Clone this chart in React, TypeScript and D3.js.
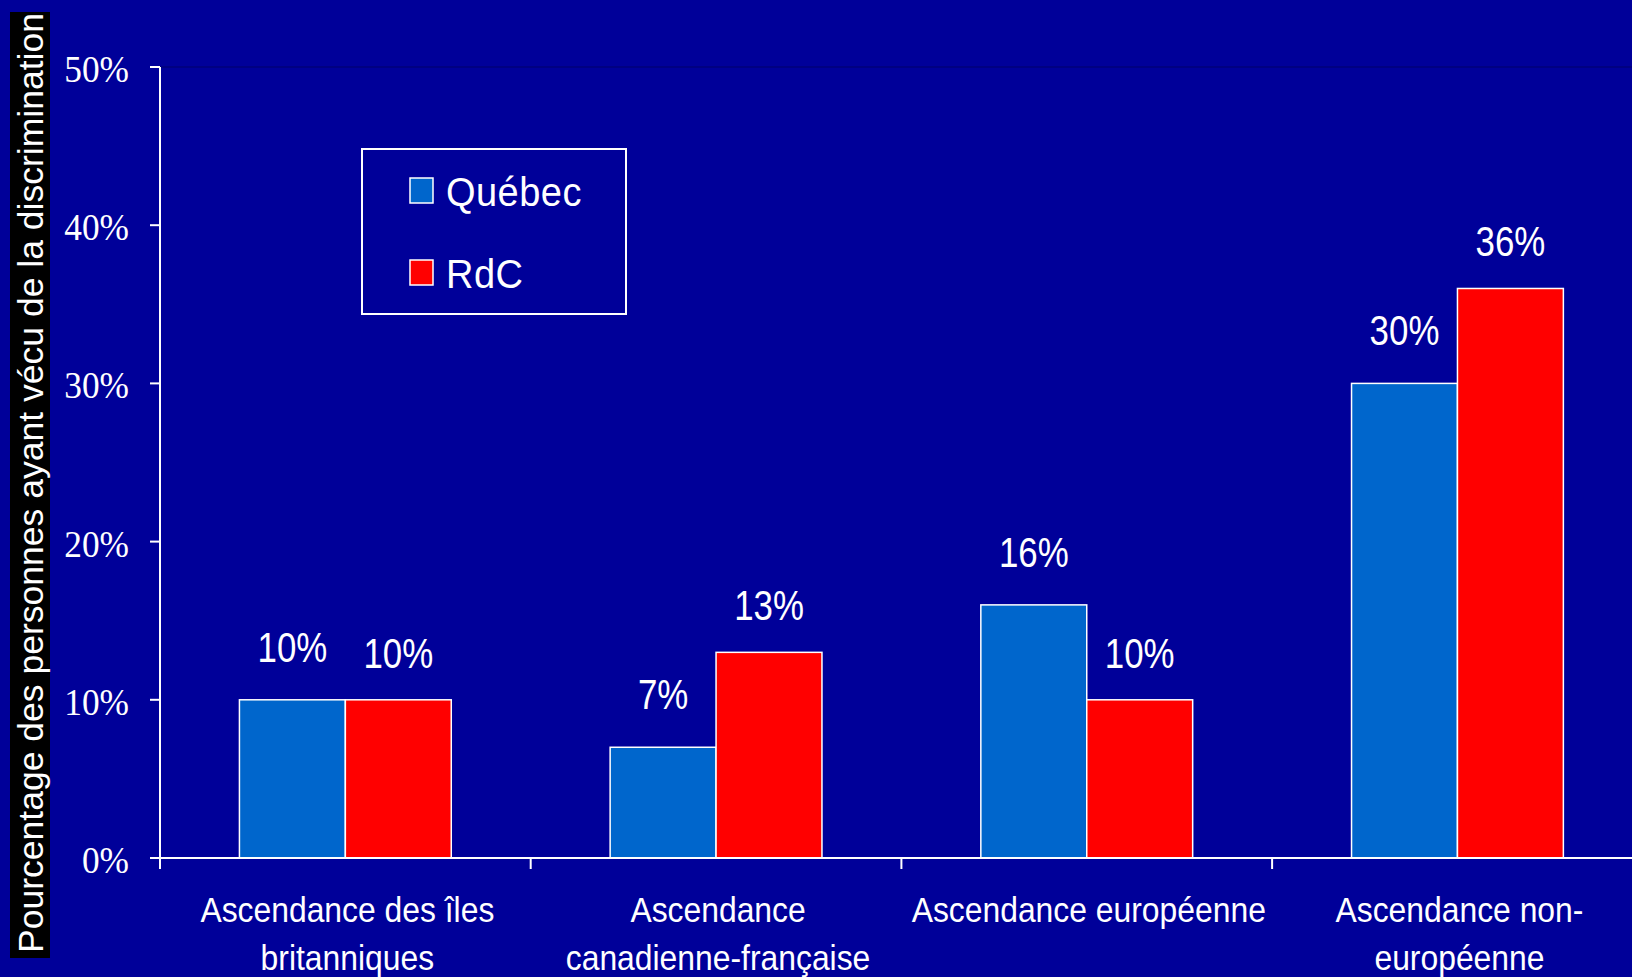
import React from 'react';
import * as d3 from 'd3';

const categories: string[][] = [
  ['Ascendance des îles', 'britanniques'],
  ['Ascendance', 'canadienne-française'],
  ['Ascendance européenne'],
  ['Ascendance non-', 'européenne'],
];
const seriesNames = ['Québec', 'RdC'];
const quebecValues = [10, 7, 16, 30];
const rdcValues = [10, 13, 10, 36];
const yTicks = [0, 10, 20, 30, 40, 50];
const yTitle = 'Pourcentage des personnes ayant vécu de la discrimination';

const W = 1632;
const H = 977;
const BG = '#000099';
const COLORS = ['#0066CC', '#FF0000'];
const SANS = '"Liberation Sans", Arial, sans-serif';
const SERIF = '"Liberation Serif", "Times New Roman", serif';

export default function App() {
  const left = 160;
  const step = 370.7;
  const x = d3
    .scaleBand<number>()
    .domain(categories.map((_, i) => i))
    .range([left, left + step * categories.length])
    .paddingInner(0)
    .paddingOuter(0);
  const xs = d3
    .scaleBand<string>()
    .domain(seriesNames)
    .range([0, x.bandwidth()])
    .paddingInner(0)
    .paddingOuter(0.75);
  const y = d3.scaleLinear().domain([0, 50]).range([858, 67]);
  const series = [quebecValues, rdcValues];
  const labelOffset = [38, 32];
  const axisBottom = y(0);

  return (
    <svg
      width={W}
      height={H}
      style={{ position: 'absolute', left: 0, top: 0, display: 'block', background: BG }}
    >
      <rect x={0} y={0} width={W} height={H} fill={BG} />
      {/* plot top border */}
      <line x1={left} x2={W} y1={y(50)} y2={y(50)} stroke="#00007a" strokeWidth={1.5} />

      {/* bars */}
      {series.map((vals, si) =>
        vals.map((v, ci) => (
          <rect
            key={`b${si}-${ci}`}
            x={(x(ci) as number) + (xs(seriesNames[si]) as number)}
            y={y(v)}
            width={xs.bandwidth()}
            height={axisBottom - y(v)}
            fill={COLORS[si]}
            stroke="#ffffff"
            strokeWidth={1.5}
          />
        ))
      )}

      {/* value labels */}
      {series.map((vals, si) =>
        vals.map((v, ci) => {
          const cx = (x(ci) as number) + (xs(seriesNames[si]) as number) + xs.bandwidth() / 2;
          const by = y(v) - labelOffset[si];
          return (
            <text
              key={`l${si}-${ci}`}
              transform={`translate(${cx},${by}) scale(0.83,1)`}
              textAnchor="middle"
              fontFamily={SANS}
              fontSize={42}
              fill="#ffffff"
            >
              {`${v}%`}
            </text>
          );
        })
      )}

      {/* y axis */}
      <line x1={left} x2={left} y1={y(50)} y2={axisBottom + 11} stroke="#ffffff" strokeWidth={2} />
      {yTicks.map((t) => (
        <g key={`yt${t}`}>
          <line x1={left - 10} x2={left} y1={y(t)} y2={y(t)} stroke="#ffffff" strokeWidth={2} />
          <text
            transform={`translate(${129},${y(t) + 15}) scale(0.93,1)`}
            textAnchor="end"
            fontFamily={SERIF}
            fontSize={38}
            fill="#ffffff"
          >
            {`${t}%`}
          </text>
        </g>
      ))}

      {/* x axis */}
      <line x1={left - 10} x2={W} y1={axisBottom} y2={axisBottom} stroke="#ffffff" strokeWidth={2} />
      {categories.map((_, i) =>
        i === 0 ? null : (
          <line
            key={`xt${i}`}
            x1={x(i) as number}
            x2={x(i) as number}
            y1={axisBottom}
            y2={axisBottom + 11}
            stroke="#ffffff"
            strokeWidth={2}
          />
        )
      )}
      {categories.map((lines, i) => {
        const cx = (x(i) as number) + x.bandwidth() / 2 + 2;
        return lines.map((ln, li) => (
          <text
            key={`c${i}-${li}`}
            transform={`translate(${cx},${922 + li * 48}) scale(0.885,1)`}
            textAnchor="middle"
            fontFamily={SANS}
            fontSize={36}
            fill="#ffffff"
          >
            {ln}
          </text>
        ));
      })}

      {/* legend */}
      <rect x={362} y={149} width={264} height={165} fill="none" stroke="#ffffff" strokeWidth={2} />
      {seriesNames.map((name, i) => (
        <g key={`lg${i}`}>
          <rect
            x={410}
            y={178 + i * 82}
            width={23}
            height={25}
            fill={COLORS[i]}
            stroke="#ffffff"
            strokeWidth={1.5}
          />
          <text
            transform={`translate(446,${206 + i * 82}) scale(0.95,1)`}
            fontFamily={SANS}
            fontSize={40}
            fill="#ffffff"
            letterSpacing={0.5}
          >
            {name}
          </text>
        </g>
      ))}

      {/* y title */}
      <rect x={10} y={12} width={40} height={946} fill="#000000" />
      <text
        transform={`translate(43,953) rotate(-90)`}
        fontFamily={SANS}
        fontSize={35}
        fill="#ffffff"
        textLength={940}
        lengthAdjust="spacingAndGlyphs"
      >
        {yTitle}
      </text>
    </svg>
  );
}
